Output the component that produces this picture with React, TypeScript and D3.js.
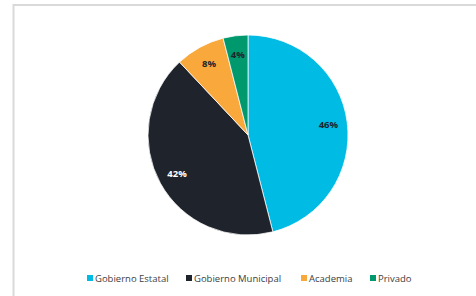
import React from 'react';
import * as d3 from 'd3';

const categories = ['Gobierno Estatal', 'Gobierno Municipal', 'Academia', 'Privado'];
const values = [46, 42, 8, 4];
const colors = ['#00BBE4', '#1F232B', '#F9A83C', '#00996D'];
const labelColors = ['#1F232B', '#FFFFFF', '#1F232B', '#1F232B'];
const legendX = [87, 186, 301, 370];

const App = () => {
    const width = 476;
    const height = 296;
    const cx = 248;
    const cy = 135;
    const radius = 100;

    const pie = d3.pie<number>().sort(null).value((d) => d);
    const arcs = pie(values);
    const arc = d3.arc<d3.PieArcDatum<number>>().innerRadius(0).outerRadius(radius);
    const labelArc = d3.arc<d3.PieArcDatum<number>>().innerRadius(radius * 0.81).outerRadius(radius * 0.81);

    return (
        <svg
            width={width}
            height={height}
            style={{position: 'absolute', left: 0, top: 0, fontFamily: '"Open Sans", sans-serif'}}
        >
            <rect x={0} y={0} width={width} height={height} fill="#fff" />
            <rect x={13.5} y={5} width={width + 10} height={height + 10} fill="none" stroke="#D9D9D9" strokeWidth={2} />
            <g transform={`translate(${cx},${cy})`}>
                {arcs.map((a, i) => (
                    <path key={i} d={arc(a) || ''} fill={colors[i]} stroke="#fff" strokeWidth={0.75} />
                ))}
                {arcs.map((a, i) => {
                    const [x, y] = labelArc.centroid(a);
                    return (
                        <text
                            key={i}
                            x={x}
                            y={y}
                            dy="0.35em"
                            textAnchor="middle"
                            fontSize={9.5}
                            fontWeight="bold"
                            fill={labelColors[i]}
                        >
                            {values[i]}%
                        </text>
                    );
                })}
            </g>
            <g>
                {categories.map((c, i) => (
                    <g key={c} transform={`translate(${legendX[i]},275)`}>
                        <rect x={0} y={0} width={6} height={6} fill={colors[i]} />
                        <text x={8} y={6.5} fontSize={9.5} fill="#404040">
                            {c}
                        </text>
                    </g>
                ))}
            </g>
        </svg>
    );
};

export default App;
